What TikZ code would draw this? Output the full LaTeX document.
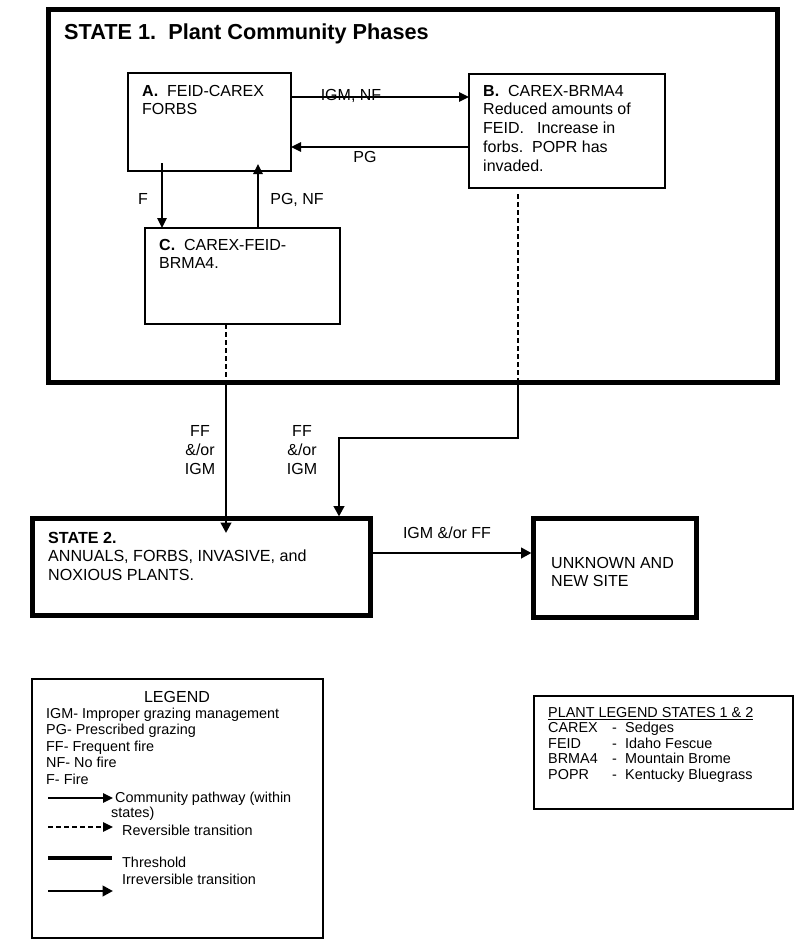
\documentclass[tikz,border=0pt]{standalone}
\usepackage{fontspec}
\setmainfont{Liberation Sans}
\usetikzlibrary{arrows.meta,calc}
\newcommand\myfs[2]{\fontsize{#1}{#2}\selectfont}
\begin{document}
\begin{tikzpicture}[x=1pt,y=-1pt,
  font=\myfs{16}{18.7}\frenchspacing,
  boxthin/.style={draw,line width=1.3pt,inner sep=0pt,outer sep=0pt,rectangle},
  boxthick/.style={draw,line width=5pt,inner sep=0pt,outer sep=0pt,rectangle},
  thinarr/.style={line width=1.3pt,-{Triangle[length=10pt,width=9.5pt]}},
  heavyarr/.style={line width=2.8pt,-{Triangle[length=10.5pt,width=10.5pt]}},
  dashline/.style={line width=1.3pt,dash pattern=on 5pt off 3pt},
  txt/.style={inner sep=0pt,anchor=north west,align=left},
  lbl/.style={inner sep=0pt,anchor=base},
  legtxt/.style={inner sep=0pt,anchor=base west,font=\myfs{14.4}{16.5}\frenchspacing}]
\useasboundingbox (0,0) rectangle (800,951);
\fill[white] (0,0) rectangle (800,951);

% boxes
\node[boxthick,minimum width=729pt,minimum height=373pt] (S1) at (412.5,195.5) {};
\node[boxthin,minimum width=163pt,minimum height=98pt] (A) at (209.5,122) {};
\node[boxthin,minimum width=196pt,minimum height=114pt] (B) at (567,131) {};
\node[boxthin,minimum width=195pt,minimum height=96pt] (C) at (242.5,276) {};
\node[boxthick,minimum width=338pt,minimum height=97pt] (S2) at (201,566.5) {};
\node[boxthick,minimum width=163pt,minimum height=99pt] (U) at (614.5,567.5) {};
\node[boxthin,minimum width=291pt,minimum height=259pt] (Leg) at (177.5,808.5) {};
\node[boxthin,minimum width=259pt,minimum height=113pt] (PL) at (663.5,752.5) {};

% texts
\node[inner sep=0pt,anchor=base west,font=\bfseries\myfs{21.7}{25}] (title) at (64,39) {STATE 1.\ \ Plant Community Phases};
\node[txt] (tA) at (142,84) {\rule{0pt}{12pt}\textbf{A.}\ \ FEID-CAREX\\FORBS};
\node[txt] (tB) at (483,84) {\rule{0pt}{12pt}\textbf{B.}\ \ CAREX-BRMA4\\Reduced amounts of\\FEID.\hspace{13pt}Increase in\\forbs.\ \ POPR has\\invaded.};
\node[txt] (tC) at (159,238) {\rule{0pt}{12pt}\textbf{C.}\ \ CAREX-FEID-\\BRMA4.};
\node[txt,font=\myfs{16.1}{18.5}\frenchspacing] (tS2) at (48,531) {\rule{0pt}{12pt}\textbf{STATE 2.}\\ANNUALS, FORBS, INVASIVE, and\\NOXIOUS PLANTS.};
\node[txt] (tU) at (551,556) {\rule{0pt}{12pt}UNKNOWN AND\\NEW SITE};

% connectors in state 1
\draw[thinarr] (A.east |- 0,97) -- (B.west |- 0,97);
\draw[thinarr] (B.west |- 0,147) -- (A.east |- 0,147);
\draw[thinarr] ($(A.south -| 162,0)+(0,-8)$) -- (C.north -| 162,0);
\draw[thinarr] (C.north -| 258,0) -- ($(A.south -| 258,0)+(0,-7)$);

\node[lbl] (lIGMNF) at (351,100) {IGM, NF};
\node[lbl] (lPG) at (365,162) {PG};
\node[lbl] (lF) at (143,204) {F};
\node[lbl] (lPGNF) at (297,204) {PG, NF};

% transitions
\draw[dashline] (C.south -| 226,0) -- (S1.south -| 226,0);
\draw[heavyarr] (S1.south -| 226,0) -- ($(S2.north -| 226,0)+(0,15)$);
\draw[dashline] ($(B.south -| 518,0)+(0,6)$) -- (S1.south -| 518,0);
\draw[heavyarr] (S1.south -| 518,0) -- ++(0,56) -| ($(S2.north -| 339,0)+(0,-1.5)$);
\draw[heavyarr] (S2.east |- 0,553) -- ($(U.west |- 0,553)+(-1.5,0)$);

\node[inner sep=0pt,anchor=north,align=center,font=\myfs{16}{19}] (lFF1) at (200,424) {\rule{0pt}{12pt}FF\\\&/or\\IGM};
\node[inner sep=0pt,anchor=north,align=center,font=\myfs{16}{19}] (lFF2) at (302,424) {\rule{0pt}{12pt}FF\\\&/or\\IGM};
\node[lbl] (lIGMFF) at (447,538) {IGM \&/or FF};

% legend
\node[inner sep=0pt,anchor=base,font=\myfs{16}{18}] (legT) at (177,702) {LEGEND};
\node[txt,font=\myfs{14.4}{16.5}\frenchspacing] (legItems) at (46,707) {\rule{0pt}{11pt}IGM- Improper grazing management\\PG- Prescribed grazing\\FF- Frequent fire\\NF- No fire\\F- Fire};
\node[legtxt] (legCP) at (115,802) {Community pathway (within};
\node[legtxt] (legCP2) at (111,817) {states)};
\node[legtxt] (legRT) at (122,835) {Reversible transition};
\node[legtxt] (legTH) at (122,867) {Threshold};
\node[legtxt] (legIT) at (122,884) {Irreversible transition};
\draw[thinarr] (48,798) -- (113,798);
\draw[dashline,-{Triangle[length=10pt,width=9.5pt]}] (48,827) -- (113,827);
\draw[line width=4pt] (48,858) -- (112,858);
\draw[heavyarr] (48,891) -- (113,891);

% plant legend
\node[txt,font=\myfs{14.4}{15.5}\frenchspacing] (plItems) at (548,706) {\rule{0pt}{11pt}\underline{PLANT LEGEND STATES 1 \& 2}\\
\makebox[64pt][l]{CAREX}\makebox[13pt][l]{-}Sedges\\
\makebox[64pt][l]{FEID}\makebox[13pt][l]{-}Idaho Fescue\\
\makebox[64pt][l]{BRMA4}\makebox[13pt][l]{-}Mountain Brome\\
\makebox[64pt][l]{POPR}\makebox[13pt][l]{-}Kentucky Bluegrass};
\end{tikzpicture}
\end{document}
